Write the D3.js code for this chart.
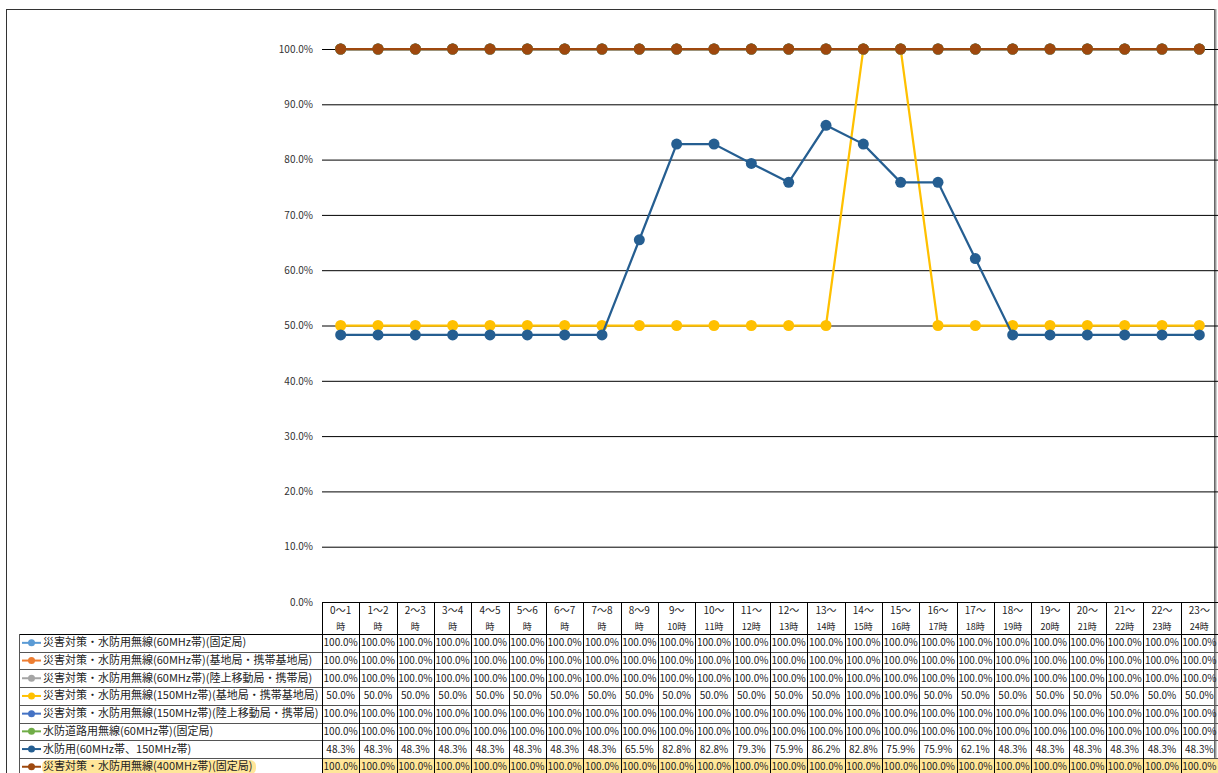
<!DOCTYPE html>
<html>
<head>
<meta charset="utf-8">
<script src="https://cdn.jsdelivr.net/npm/d3@7"></script>
<style>
  body { margin: 0; background: #fff; }
  svg { display: block; font-family: "Noto Sans CJK JP", "Noto Sans", sans-serif; }
</style>
</head>
<body>
<svg></svg>
<script>
var width = 1218;
var height = 773;

// hour slots, two header lines each
var hourTop = ["0～1","1～2","2～3","3～4","4～5","5～6","6～7","7～8","8～9","9～","10～","11～",
  "12～","13～","14～","15～","16～","17～","18～","19～","20～","21～","22～","23～"];
var hourBottom = ["時","時","時","時","時","時","時","時","時","10時","11時","12時",
  "13時","14時","15時","16時","17時","18時","19時","20時","21時","22時","23時","24時"];

var seriesNames = [
  "災害対策・水防用無線(60MHz帯)(固定局)",
  "災害対策・水防用無線(60MHz帯)(基地局・携帯基地局)",
  "災害対策・水防用無線(60MHz帯)(陸上移動局・携帯局)",
  "災害対策・水防用無線(150MHz帯)(基地局・携帯基地局)",
  "災害対策・水防用無線(150MHz帯)(陸上移動局・携帯局)",
  "水防道路用無線(60MHz帯)(固定局)",
  "水防用(60MHz帯、150MHz帯)",
  "災害対策・水防用無線(400MHz帯)(固定局)"
];
var seriesColors = ["#5b9bd5","#ed7d31","#a5a5a5","#ffc000","#4472c4","#70ad47","#255e91","#9e480e"];

var fixed60 = [100,100,100,100,100,100,100,100,100,100,100,100,100,100,100,100,100,100,100,100,100,100,100,100];
var base60 = [100,100,100,100,100,100,100,100,100,100,100,100,100,100,100,100,100,100,100,100,100,100,100,100];
var mobile60 = [100,100,100,100,100,100,100,100,100,100,100,100,100,100,100,100,100,100,100,100,100,100,100,100];
var base150 = [50,50,50,50,50,50,50,50,50,50,50,50,50,50,100,100,50,50,50,50,50,50,50,50];
var mobile150 = [100,100,100,100,100,100,100,100,100,100,100,100,100,100,100,100,100,100,100,100,100,100,100,100];
var road60 = [100,100,100,100,100,100,100,100,100,100,100,100,100,100,100,100,100,100,100,100,100,100,100,100];
var suibou = [48.3,48.3,48.3,48.3,48.3,48.3,48.3,48.3,65.5,82.8,82.8,79.3,75.9,86.2,82.8,75.9,75.9,62.1,48.3,48.3,48.3,48.3,48.3,48.3];
var fixed400 = [100,100,100,100,100,100,100,100,100,100,100,100,100,100,100,100,100,100,100,100,100,100,100,100];

var yTicks = [0,10,20,30,40,50,60,70,80,90,100];

var seriesValues = [fixed60, base60, mobile60, base150, mobile150, road60, suibou, fixed400];
var series = seriesNames.map(function(n, i){
  return { name: n, color: seriesColors[i], values: seriesValues[i] };
});

var plot = { left: 322, right: 1218, top: 49, bottom: 602 };
var rowH = 17.7;
var headH = 32;
var legendLeft = 19;

var svg = d3.select("svg").attr("width", width).attr("height", height);

// outer frame
svg.append("rect")
  .attr("x", 6.5).attr("y", 9.5).attr("width", 1208).attr("height", 780)
  .attr("fill", "none").attr("stroke", "#333").attr("stroke-width", 1);
svg.append("line")
  .attr("x1", 1215.5).attr("x2", 1215.5).attr("y1", 9).attr("y2", height)
  .attr("stroke", "#999").attr("stroke-width", 2);

var x = d3.scaleBand()
  .domain(d3.range(hourTop.length))
  .range([plot.left, plot.right]);

var y = d3.scaleLinear()
  .domain([0, 100])
  .range([plot.bottom, plot.top]);

// gridlines + y labels
var yAxis = d3.axisLeft(y)
  .tickValues(yTicks)
  .tickSize(-(plot.right - plot.left))
  .tickPadding(9)
  .tickFormat(function(d){ return d3.format(".1f")(d) + "%"; });

var yg = svg.append("g")
  .attr("transform", "translate(" + plot.left + ",0)")
  .call(yAxis);
yg.select(".domain").remove();
yg.selectAll(".tick line").attr("stroke", "#000").attr("stroke-width", 1);
yg.selectAll(".tick text")
  .attr("font-size", 10).attr("fill", "#333")
  .attr("font-family", "'Noto Sans CJK JP', sans-serif");

// series lines + markers
var line = d3.line()
  .x(function(d, i){ return x(i) + x.bandwidth() / 2; })
  .y(function(d){ return y(d); });

var sg = svg.selectAll("g.series")
  .data(series)
  .enter()
  .append("g")
  .attr("class", "series");

sg.append("path")
  .attr("d", function(d){ return line(d.values); })
  .attr("fill", "none")
  .attr("stroke", function(d){ return d.color; })
  .attr("stroke-width", 2.25);

sg.selectAll("circle")
  .data(function(d){ return d.values.map(function(v){ return { v: v, c: d.color }; }); })
  .enter()
  .append("circle")
  .attr("cx", function(d, i){ return x(i) + x.bandwidth() / 2; })
  .attr("cy", function(d){ return y(d.v); })
  .attr("r", 5.5)
  .attr("fill", function(d){ return d.c; });

// data table
var table = svg.append("g");
var tableTop = plot.bottom;
var rowsTop = tableTop + headH;

// highlighted last row
table.append("rect")
  .attr("x", plot.left).attr("y", rowsTop + rowH * 7)
  .attr("width", plot.right - plot.left).attr("height", rowH + 4)
  .attr("fill", "#ffe699");
table.append("rect")
  .attr("x", 42).attr("y", rowsTop + rowH * 7 + 2)
  .attr("width", 214).attr("height", rowH - 3).attr("rx", 6)
  .attr("fill", "#ffe699");

// header text
var head = table.selectAll("g.head")
  .data(hourTop)
  .enter()
  .append("g")
  .attr("transform", function(d, i){ return "translate(" + (x(i) + x.bandwidth() / 2) + "," + tableTop + ")"; });
head.append("text")
  .attr("y", 12).attr("text-anchor", "middle")
  .attr("font-size", 10).attr("fill", "#222")
  .text(function(d){ return d; });
head.append("text")
  .attr("y", 28).attr("text-anchor", "middle")
  .attr("font-size", 9).attr("fill", "#222")
  .text(function(d, i){ return hourBottom[i]; });

// horizontal rules
table.append("line")
  .attr("x1", plot.left).attr("x2", plot.right)
  .attr("y1", tableTop + 0.5).attr("y2", tableTop + 0.5)
  .attr("stroke", "#000");
table.selectAll("line.row")
  .data(d3.range(series.length + 1))
  .enter()
  .append("line")
  .attr("x1", legendLeft).attr("x2", plot.right)
  .attr("y1", function(i){ return Math.round(rowsTop + rowH * i) + 0.5; })
  .attr("y2", function(i){ return Math.round(rowsTop + rowH * i) + 0.5; })
  .attr("stroke", function(i){ return i === 0 ? "#000" : "#555"; })
  .attr("stroke-width", 1.2);

// vertical rules
table.selectAll("line.col")
  .data(d3.range(hourTop.length + 1))
  .enter()
  .append("line")
  .attr("x1", function(i){ return Math.round(plot.left + x.step() * i) + 0.5; })
  .attr("x2", function(i){ return Math.round(plot.left + x.step() * i) + 0.5; })
  .attr("y1", tableTop).attr("y2", height)
  .attr("stroke", "#000");
table.append("line")
  .attr("x1", legendLeft + 0.5).attr("x2", legendLeft + 0.5)
  .attr("y1", rowsTop).attr("y2", height)
  .attr("stroke", "#555");

// rows: legend key + values
var rows = table.selectAll("g.row")
  .data(series)
  .enter()
  .append("g")
  .attr("transform", function(d, i){ return "translate(0," + (rowsTop + rowH * i) + ")"; });

rows.append("line")
  .attr("x1", 22).attr("x2", 41)
  .attr("y1", rowH / 2).attr("y2", rowH / 2)
  .attr("stroke", function(d){ return d.color; })
  .attr("stroke-width", 2);
rows.append("circle")
  .attr("cx", 31.5).attr("cy", rowH / 2).attr("r", 3.5)
  .attr("fill", function(d){ return d.color; });
rows.append("text")
  .attr("x", 43).attr("y", rowH / 2 + 3.5)
  .attr("font-size", 11).attr("fill", "#222")
  .text(function(d){ return d.name; });

rows.selectAll("text.val")
  .data(function(d){ return d.values; })
  .enter()
  .append("text")
  .attr("x", function(d, i){ return x(i) + x.bandwidth() / 2; })
  .attr("y", rowH / 2 + 3.5)
  .attr("text-anchor", "middle")
  .attr("font-size", 10).attr("fill", "#222")
  .text(function(d){ return d3.format(".1f")(d) + "%"; });
</script>
</body>
</html>
